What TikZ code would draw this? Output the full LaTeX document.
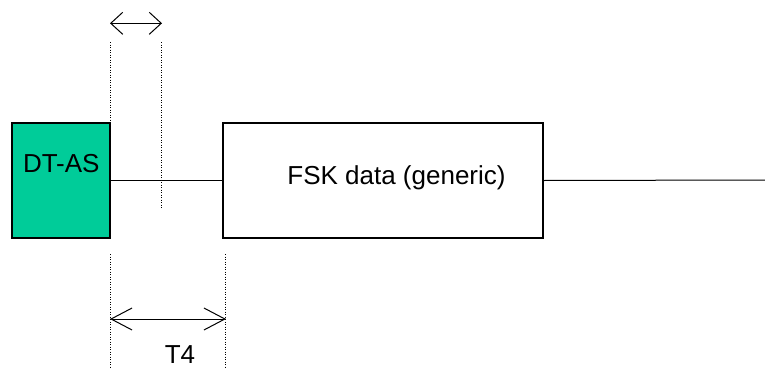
\documentclass[tikz,border=0pt]{standalone}
\usepackage{fontspec}
\setmainfont{Liberation Sans}
\usetikzlibrary{arrows.meta}
\definecolor{dtgreen}{HTML}{00CC99}
\begin{document}
\begin{tikzpicture}[x=1pt,y=-1pt,
  box/.style={draw=black,line width=1.2pt,rectangle,inner sep=0pt,outer sep=0pt,anchor=north west},
  lbl/.style={font=\fontsize{26}{30}\selectfont,inner sep=0pt,anchor=base},
  conn/.style={line width=1pt},
  guide/.style={line width=0.8pt,dash pattern=on 1pt off 1.5pt},
  dimarrow/.style={line width=1pt,{Straight Barb[length=#1,width=22pt,line width=1pt]}-{Straight Barb[length=#1,width=22pt,line width=1pt]}}]
\useasboundingbox (0,0) rectangle (765,367);
\node[box,fill=dtgreen,minimum width=98pt,minimum height=115pt] (dtas) at (12,123) {};
\node[lbl] (dtaslbl) at (61.3,172) {DT-AS};
\node[box,minimum width=320pt,minimum height=115pt] (fsk) at (223,123) {};
\node[lbl] (fsklbl) at (396.5,184) {FSK data (generic)};
\coordinate (lineend) at (765,180);
\draw[conn] (dtas.east) -- (fsk.west);
\draw[conn] (fsk.east) -- (lineend);
% top guides
\coordinate (g1t) at (110,42);
\coordinate (g1b) at (110,121);
\coordinate (g2t) at (161.5,42);
\coordinate (g2b) at (161.5,208);
\draw[guide] (g1t) -- (g1b);
\draw[guide] (g2t) -- (g2b);
\coordinate (a1l) at (110,23.3);
\coordinate (a1r) at (162,23.3);
\draw[dimarrow=12pt] (a1l) -- (a1r);
% bottom guides
\coordinate (g3t) at (110,254);
\coordinate (g3b) at (110,367);
\coordinate (g4t) at (225.5,254);
\coordinate (g4b) at (225.5,367);
\draw[guide] (g3t) -- (g3b);
\draw[guide] (g4t) -- (g4b);
\coordinate (a2l) at (110,319);
\coordinate (a2r) at (226,319);
\draw[dimarrow=21pt] (a2l) -- (a2r);
\node[lbl] (t4) at (180,363.5) {T4};
\end{tikzpicture}
\end{document}
